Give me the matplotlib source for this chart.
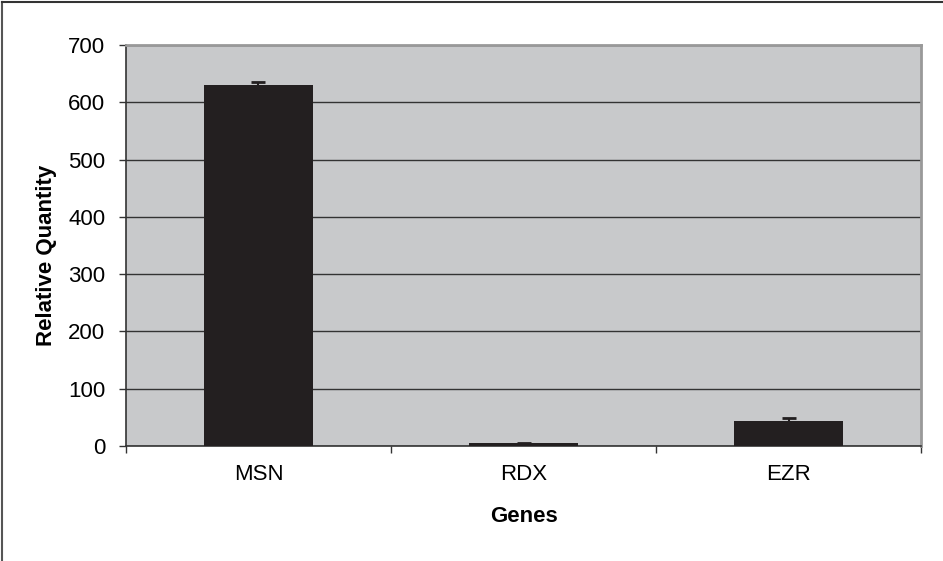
import matplotlib.pyplot as plt
from matplotlib.lines import Line2D

plt.rcParams['font.family'] = ['Liberation Sans', 'DejaVu Sans']

genes = ['MSN', 'RDX', 'EZR']
quantity = [630, 5, 44]
errors = [5, 1, 4]

fig = plt.figure(figsize=(9.43, 5.61), dpi=100)
ax = fig.add_axes([0.1336, 0.205, 0.8431, 0.7148])

# outer frame (only left and top visible in the reference)
fig.add_artist(Line2D([0.0025, 0.0025], [0, 0.997], transform=fig.transFigure, color='#555555', lw=1.5))
fig.add_artist(Line2D([0.0025, 1], [0.997, 0.997], transform=fig.transFigure, color='#333333', lw=1.5))

ax.set_facecolor('#c8c9cb')
x = range(len(genes))
ax.bar(x, quantity, width=0.41, color='#231f20', zorder=3,
       yerr=errors, error_kw=dict(ecolor='#231f20', capsize=5, capthick=2, elinewidth=1.5, zorder=4))

ax.set_ylim(0, 700)
ax.set_xlim(-0.5, 2.5)
ax.set_yticks(range(0, 701, 100))
ax.yaxis.grid(True, color='#333333', lw=1, zorder=1)
ax.set_axisbelow(True)

ax.set_xticks(x)
ax.set_xticklabels(genes)
ax.set_xticks([-0.5, 0.5, 1.5, 2.5], minor=True)
ax.tick_params(axis='x', which='major', length=0, pad=13, labelsize=16)
ax.tick_params(axis='x', which='minor', length=5, width=1, color='#333333')
ax.tick_params(axis='y', length=5, width=1, color='#333333', pad=10, labelsize=16)

for side in ['left', 'bottom']:
    ax.spines[side].set_color('#333333')
    ax.spines[side].set_linewidth(1.2)
for side in ['top', 'right']:
    ax.spines[side].set_color('#999999')
    ax.spines[side].set_linewidth(2)

ax.set_xlabel('Genes', fontsize=16, fontweight='bold', labelpad=15)
ax.set_ylabel('Relative Quantity', fontsize=16, fontweight='bold', labelpad=8, y=0.476)

fig.savefig('out.png', dpi=100)
